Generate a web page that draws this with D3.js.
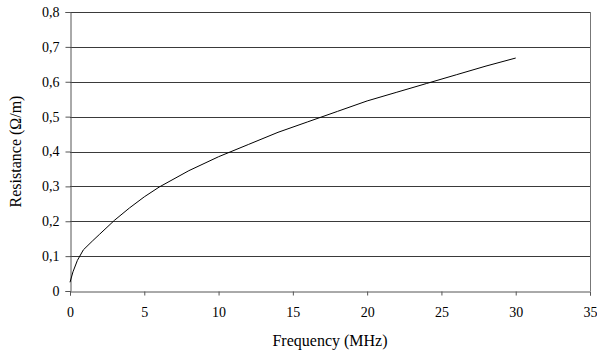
<!DOCTYPE html>
<html>
<head>
<meta charset="utf-8">
<script src="https://cdn.jsdelivr.net/npm/d3@7"></script>
</head>
<body style="margin:0; background:#fff; font-family:'Times New Roman', serif">
<svg id="plot"></svg>
<script>
const width = 597;
const height = 355;
const margin = { top: 12, right: 7, bottom: 64, left: 70 };

// frequency (MHz) and resistance (ohm/m)
const freq = [0, 0.2, 0.5, 0.9, 1.5, 2, 3, 4, 5, 6, 8, 10, 12, 14, 16, 18, 20, 22, 24, 26, 28, 30];
const resistance = [0.025, 0.055, 0.088, 0.118, 0.143, 0.163, 0.203, 0.238, 0.27, 0.298, 0.345, 0.385,
    0.42, 0.455, 0.485, 0.515, 0.545, 0.57, 0.595, 0.62, 0.645, 0.668];

const xTicks = [0, 5, 10, 15, 20, 25, 30, 35];
const yTicks = [0, 0.1, 0.2, 0.3, 0.4, 0.5, 0.6, 0.7, 0.8];

const data = freq.map((f, i) => ({ f: f, r: resistance[i] }));

const fontName = "Times New Roman";

const svg = d3.select("#plot")
    .attr("width", width)
    .attr("height", height)
    .attr("font-family", fontName);

const x = d3.scaleLinear()
    .domain([0, 35])
    .range([margin.left, width - margin.right]);

const y = d3.scaleLinear()
    .domain([0, 0.8])
    .range([height - margin.bottom, margin.top]);

// gridlines
svg.append("g")
    .selectAll("line")
    .data(yTicks.slice(1))
    .enter()
    .append("line")
    .attr("x1", x(0))
    .attr("x2", x(35))
    .attr("y1", d => Math.round(y(d)) + 0.5)
    .attr("y2", d => Math.round(y(d)) + 0.5)
    .attr("stroke", "#3a3a3a")
    .attr("stroke-width", 1);

// right border
svg.append("line")
    .attr("x1", Math.round(x(35)) + 0.5)
    .attr("x2", Math.round(x(35)) + 0.5)
    .attr("y1", y(0.8))
    .attr("y2", y(0))
    .attr("stroke", "#777");

// axes
const fmt = d => d3.format(".1f")(d).replace(".", ",").replace(/^0,0$/, "0");

const axisX = svg.append("g")
    .attr("transform", `translate(0, ${Math.round(y(0)) + 0.5})`)
    .call(d3.axisBottom(x).tickValues(xTicks).tickSize(4).tickPadding(12).tickFormat(d3.format("d")));

const axisY = svg.append("g")
    .attr("transform", `translate(${Math.round(x(0)) + 0.5}, 0)`)
    .call(d3.axisLeft(y).tickValues(yTicks).tickSize(5).tickPadding(6).tickFormat(fmt));

[axisX, axisY].forEach(a => {
    a.attr("font-family", fontName).attr("font-size", 14);
    a.select(".domain").attr("stroke", "#555");
    a.selectAll(".tick line").attr("stroke", "#555");
    a.selectAll("text")
        .attr("fill", "#000")
        .attr("font-family", fontName);
});

// curve
svg.append("path")
    .datum(data)
    .attr("fill", "none")
    .attr("stroke", "#000")
    .attr("stroke-width", 1)
    .attr("d", d3.line()
        .x(d => x(d.f))
        .y(d => y(d.r)));

// axis titles
svg.append("text")
    .attr("x", (x(0) + x(35)) / 2)
    .attr("y", 346)
    .attr("text-anchor", "middle")
    .attr("font-family", fontName)
    .attr("font-size", 16)
    .text("Frequency (MHz)");

svg.append("text")
    .attr("transform", `translate(21, ${(y(0) + y(0.8)) / 2}) rotate(-90)`)
    .attr("text-anchor", "middle")
    .attr("font-family", fontName)
    .attr("font-size", 16)
    .text("Resistance (Ω/m)");
</script>
</body>
</html>
